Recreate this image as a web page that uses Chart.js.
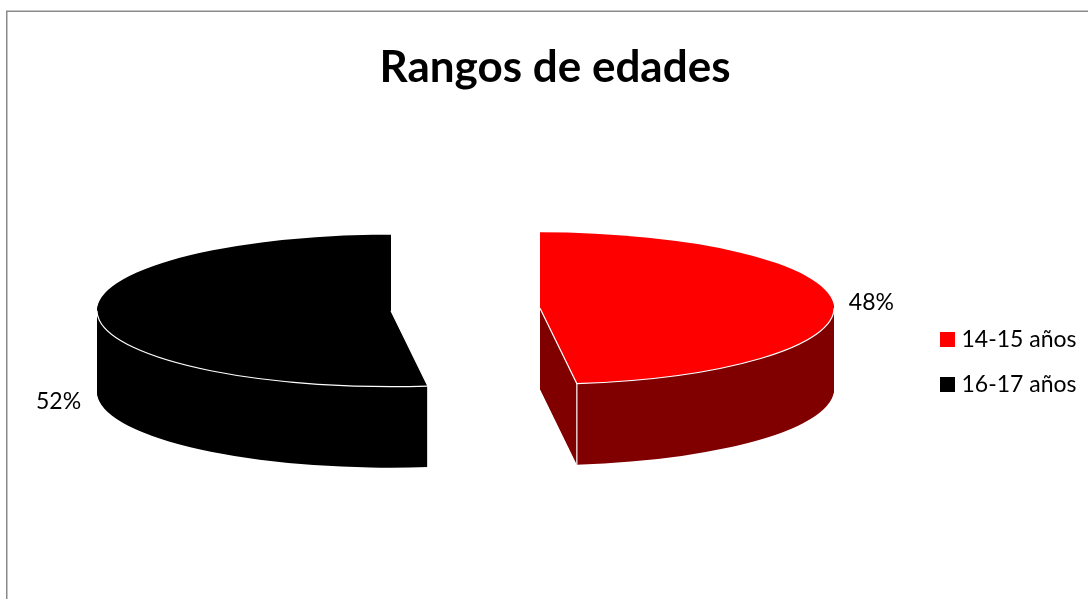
<!DOCTYPE html>
<html>
<head>
<meta charset="utf-8">
<style>html,body{margin:0;padding:0;background:#fff;overflow:hidden}canvas{display:block}</style>
<script src="https://cdn.jsdelivr.net/npm/chart.js@4"></script>
</head>
<body>
<canvas id="c" width="1088" height="599"></canvas>
<script>
const titleText = 'Rangos de edades';
const categories = ['14-15 años', '16-17 años'];
const values = [48, 52];
const topColors = ['#ff0000', '#000000'];
const sideColors = ['#800000', '#000000'];
const valueLabels = ['48%', '52%'];

const FONT = 'Lato, Carlito, sans-serif';
const view = {cx: 465.5, cy: 309.5, squash: 0.2585, depth: 81, explode: 74.65};
const labelShift = [{x: 38, y: -1}, {x: 39, y: 86}];

function place(ctx, arc, d) {
  const mid = (arc.startAngle + arc.endAngle) / 2;
  ctx.translate(view.cx + Math.cos(mid) * view.explode,
                view.cy + Math.sin(mid) * view.explode * view.squash + d);
  ctx.scale(1, view.squash);
  ctx.translate(-arc.x, -arc.y);
}
function toScreen(arc, angle, r) {
  const mid = (arc.startAngle + arc.endAngle) / 2;
  return {
    x: view.cx + Math.cos(mid) * view.explode + Math.cos(angle) * r,
    y: view.cy + Math.sin(mid) * view.explode * view.squash + Math.sin(angle) * r * view.squash
  };
}

const frame = {
  id: 'frame',
  beforeDraw(chart) {
    const ctx = chart.ctx;
    ctx.save();
    ctx.strokeStyle = '#8a8a8a';
    ctx.lineWidth = 1.5;
    ctx.beginPath();
    ctx.moveTo(6.75, chart.height);
    ctx.lineTo(6.75, 11.25);
    ctx.lineTo(chart.width, 11.25);
    ctx.stroke();
    ctx.restore();
  }
};

const legendPlace = {
  id: 'legendPlace',
  afterLayout(chart) {
    const l = chart.legend;
    const h = l.bottom - l.top;
    const pad = l.options.labels.padding;
    l.left = 945 - pad;
    l.right = l.left + l.width;
    l.top = 362 - h / 2;
    l.bottom = l.top + h;
  }
};

const pie3d = {
  id: 'pie3d',
  beforeDatasetDraw(chart, args) {
    const ctx = chart.ctx;
    const arcs = args.meta.data;
    arcs.forEach((arc, i) => {
      const base = arc.options;
      const side = Object.create(base);
      side.backgroundColor = sideColors[i];
      side.borderWidth = 0;
      arc.options = side;
      for (let d = view.depth; d > 0; d--) {
        ctx.save();
        place(ctx, arc, d);
        arc.draw(ctx);
        ctx.restore();
      }
      const topFace = Object.create(base);
      topFace.borderWidth = 0;
      arc.options = topFace;
      ctx.save();
      place(ctx, arc, 0);
      arc.draw(ctx);
      ctx.restore();
      arc.options = base;

      // white edges
      const r = arc.outerRadius;
      const start = Math.max(arc.startAngle, 0);
      const end = Math.min(arc.endAngle, Math.PI);
      ctx.save();
      ctx.strokeStyle = '#ffffff';
      ctx.lineWidth = 1.2;
      ctx.save();
      place(ctx, arc, 0);
      ctx.beginPath();
      ctx.arc(arc.x, arc.y, r, start, end);
      ctx.restore();
      ctx.stroke();
      const apexAngle = i === 0 ? arc.endAngle : arc.startAngle;
      const apex = toScreen(arc, apexAngle, r);
      const centre = toScreen(arc, 0, 0);
      ctx.beginPath();
      ctx.moveTo(centre.x, centre.y);
      ctx.lineTo(apex.x, apex.y);
      ctx.lineTo(apex.x, apex.y + view.depth);
      ctx.stroke();
      ctx.restore();

      // value label beside the outer edge of the slice
      const mid = (arc.startAngle + arc.endAngle) / 2;
      const edge = toScreen(arc, mid, r);
      const dir = Math.cos(mid) >= 0 ? 1 : -1;
      ctx.save();
      ctx.fillStyle = '#000';
      ctx.font = '23px ' + FONT;
      ctx.textAlign = 'center';
      ctx.textBaseline = 'middle';
      ctx.fillText(valueLabels[i], edge.x + dir * labelShift[i].x, edge.y + labelShift[i].y);
      ctx.restore();
    });
    return false;
  }
};

new Chart(document.getElementById('c'), {
  type: 'pie',
  data: {
    labels: categories,
    datasets: [{data: values, backgroundColor: topColors, borderColor: topColors, borderWidth: 10}]
  },
  plugins: [frame, legendPlace, pie3d],
  options: {
    responsive: false,
    animation: false,
    radius: 294,
    layout: {padding: {left: 22, right: 0, top: 0, bottom: 0}},
    plugins: {
      title: {
        display: true,
        text: titleText,
        color: '#000',
        font: {family: FONT, size: 44, weight: 'bold', lineHeight: 1.2},
        padding: {top: 41.4, bottom: 10}
      },
      legend: {
        position: 'right',
        labels: {
          color: '#000',
          font: {family: FONT, size: 23},
          boxWidth: 5,
          boxHeight: 5,
          padding: 22
        }
      },
      tooltip: {enabled: false}
    }
  }
});
</script>
</body>
</html>
